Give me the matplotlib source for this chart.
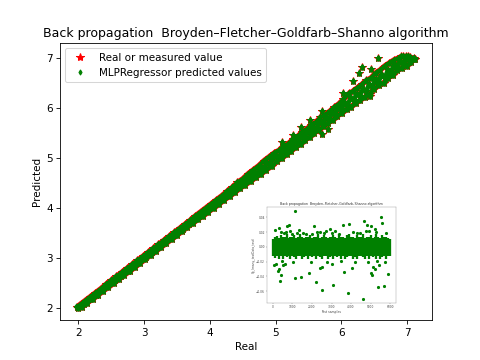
"""
Back propagation BFGS: real vs predicted values, with the residual plot as inset.
"""

import matplotlib.pyplot as plt

title = "Back propagation  Broyden–Fletcher–Goldfarb–Shanno algorithm"

# points read along the diagonal
real = [1.98, 2.00, 2.04, 2.09, 2.13, 2.18, 2.23, 2.27, 2.32, 2.37, 2.42, 2.46, 2.51, 2.56, 2.60, 2.65,
        2.70, 2.75, 2.79, 2.84, 2.89, 2.93, 2.98, 3.03, 3.08, 3.12, 3.17, 3.22, 3.26, 3.31, 3.36, 3.41,
        3.45, 3.50, 3.55, 3.59, 3.64, 3.69, 3.74, 3.78, 3.83, 3.88, 3.92, 3.97, 4.02, 4.07, 4.11, 4.16,
        4.21, 4.25, 4.30, 4.35, 4.40, 4.44, 4.49, 4.54, 4.58, 4.63, 4.68, 4.73, 4.77, 4.82, 4.87, 4.91,
        4.96, 5.01, 5.06, 5.10, 5.15, 5.20, 5.24, 5.29, 5.34, 5.39, 5.43, 5.48, 5.53, 5.57, 5.62, 5.67,
        5.72, 5.76, 5.81, 5.86, 5.90, 5.95, 6.00, 6.05, 6.09, 6.14, 6.19, 6.23, 6.28, 6.33, 6.38, 6.42,
        6.47, 6.52, 6.56, 6.61, 6.66, 6.71, 6.75, 6.80, 6.85, 6.89, 6.94, 6.99, 7.04, 7.10]
predicted = [2.02, 2.00, 2.05, 2.08, 2.14, 2.17, 2.24, 2.26, 2.33, 2.36, 2.43, 2.45, 2.52, 2.55, 2.61, 2.64,
             2.71, 2.74, 2.80, 2.83, 2.90, 2.92, 2.99, 3.02, 3.09, 3.11, 3.18, 3.21, 3.27, 3.30, 3.37, 3.40,
             3.46, 3.49, 3.56, 3.58, 3.65, 3.68, 3.75, 3.77, 3.84, 3.87, 3.93, 3.96, 4.03, 4.06, 4.12, 4.15,
             4.22, 4.24, 4.32, 4.34, 4.42, 4.43, 4.51, 4.52, 4.60, 4.61, 4.70, 4.71, 4.80, 4.79, 4.90, 4.88,
             4.99, 5.04, 5.03, 5.14, 5.12, 5.24, 5.21, 5.33, 5.31, 5.43, 5.40, 5.52, 5.50, 5.61, 5.59, 5.71,
             5.69, 5.80, 5.78, 5.90, 5.87, 5.99, 5.97, 6.10, 6.05, 6.19, 6.15, 6.28, 6.24, 6.38, 6.33, 6.47,
             6.42, 6.57, 6.51, 6.66, 6.60, 6.76, 6.68, 6.88, 6.78, 6.94, 6.87, 6.98, 6.95, 7.00]

# points along the upper edge of the band
real_upper = [2.02, 2.10, 2.18, 2.26, 2.34, 2.42, 2.50, 2.58, 2.66, 2.74, 2.82, 2.90, 2.98, 3.06, 3.14, 3.22, 3.30,
              3.38, 3.46, 3.54, 3.62, 3.70, 3.78, 3.86, 3.94, 4.02, 4.10, 4.18, 4.26, 4.34, 4.42, 4.50, 4.58, 4.66,
              4.74, 4.82, 4.90, 4.98, 5.05, 5.12, 5.19, 5.26, 5.33, 5.40, 5.47, 5.54, 5.61, 5.68, 5.75, 5.82, 5.89,
              5.96, 6.03, 6.10, 6.17, 6.24, 6.31, 6.38, 6.45, 6.52, 6.59, 6.66, 6.73, 6.80, 6.87, 6.94, 7.01]
predicted_upper = [2.06, 2.14, 2.22, 2.30, 2.38, 2.47, 2.55, 2.63, 2.71, 2.79, 2.87, 2.95, 3.03, 3.11, 3.19, 3.27, 3.35,
                   3.43, 3.51, 3.59, 3.67, 3.75, 3.84, 3.92, 4.00, 4.08, 4.16, 4.24, 4.33, 4.41, 4.51, 4.58, 4.68, 4.76,
                   4.84, 4.94, 5.02, 5.10, 5.15, 5.24, 5.28, 5.37, 5.42, 5.52, 5.57, 5.66, 5.71, 5.81, 5.86, 5.93, 6.01,
                   6.08, 6.17, 6.27, 6.33, 6.40, 6.47, 6.55, 6.60, 6.70, 6.76, 6.84, 6.90, 6.96, 7.00, 7.03, 7.03]

# points along the lower edge of the band
real_lower = [2.06, 2.14, 2.22, 2.30, 2.38, 2.46, 2.54, 2.62, 2.70, 2.78, 2.86, 2.94, 3.02, 3.10, 3.18, 3.26, 3.34,
              3.42, 3.50, 3.58, 3.66, 3.74, 3.82, 3.90, 3.98, 4.06, 4.14, 4.22, 4.30, 4.38, 4.46, 4.54, 4.62, 4.70,
              4.78, 4.86, 4.94, 5.02, 5.10, 5.17, 5.24, 5.31, 5.38, 5.45, 5.52, 5.59, 5.66, 5.73, 5.80, 5.87, 5.94,
              6.01, 6.08, 6.15, 6.22, 6.29, 6.36, 6.43, 6.50, 6.57, 6.64, 6.71, 6.78, 6.85, 6.92, 6.99, 7.06, 7.12]
predicted_lower = [2.02, 2.10, 2.18, 2.26, 2.34, 2.41, 2.49, 2.57, 2.65, 2.73, 2.81, 2.89, 2.97, 3.05, 3.13, 3.21, 3.29,
                   3.37, 3.45, 3.53, 3.61, 3.69, 3.77, 3.84, 3.92, 4.00, 4.08, 4.16, 4.23, 4.31, 4.39, 4.46, 4.53, 4.61,
                   4.68, 4.76, 4.83, 4.93, 5.00, 5.07, 5.14, 5.22, 5.28, 5.36, 5.42, 5.50, 5.56, 5.63, 5.70, 5.76, 5.84,
                   5.89, 5.97, 6.02, 6.10, 6.15, 6.22, 6.28, 6.38, 6.45, 6.50, 6.60, 6.65, 6.76, 6.80, 6.84, 6.92, 6.98]

# stragglers off the band above 5
real_extra = [5.09, 5.26, 5.39, 5.53, 5.71, 5.79, 5.70, 6.02, 6.12, 6.17, 6.27, 6.32, 6.44, 6.45, 6.55, 6.90, 6.98, 7.05, 7.10]
predicted_extra = [5.31, 5.45, 5.61, 5.76, 5.94, 5.58, 5.47, 6.30, 6.30, 6.54, 6.70, 6.82, 6.24, 6.78, 7.00, 7.04, 7.03, 7.02, 6.98]

all_real = real + real_upper + real_lower + real_extra
all_predicted = predicted + predicted_upper + predicted_lower + predicted_extra

# residual plot: envelope of the dense band per sample bin, then single points outside it
sample_bins = [0, 100, 200, 300, 400, 500, 600, 700, 800, 900, 1000, 1100, 1200, 1300, 1400, 1500, 1600, 1700, 1800,
               1900, 2000, 2100, 2200, 2300, 2400, 2500, 2600, 2700, 2800, 2900, 3000, 3100, 3200, 3300, 3400,
               3500, 3600, 3700, 3800, 3900, 4000, 4100, 4200, 4300, 4400, 4500, 4600, 4700, 4800, 4900, 5000,
               5100, 5200, 5300, 5400, 5500, 5600, 5700, 5800, 5900, 6000]
band_high = [.011, .013, .015, .012, .016, .013, .014, .017, .012, .014, .013, .016, .012, .014, .017, .013, .012, .014,
             .013, .016, .012, .014, .013, .017, .012, .014, .016, .013, .012, .014, .013, .016, .014, .012, .017,
             .013, .014, .012, .016, .017, .013, .014, .012, .016, .013, .014, .017, .012, .014, .013, .016,
             .012, .014, .017, .013, .012, .016, .013, .014, .012, .011]
band_low = [-.012, -.015, -.013, -.017, -.012, -.016, -.013, -.014, -.012, -.017, -.013, -.014, -.016, -.012, -.013,
            -.016, -.014, -.012, -.017, -.013, -.014, -.012, -.016, -.013, -.014, -.017, -.012, -.013, -.016, -.014,
            -.012, -.017, -.013, -.014, -.012, -.016, -.013, -.017, -.014, -.012, -.013, -.016, -.014, -.017, -.012,
            -.013, -.014, -.016, -.012, -.017, -.013, -.014, -.012, -.016, -.013, -.017, -.014, -.012, -.016, -.013, -.012]
outlier_x = [117, 1120, 330, 400, 720, 800, 1000, 1330, 1550, 2000, 2100, 2400, 2700, 2900, 3200, 3600, 3900, 4300,
             4650, 4750, 4800, 5000, 5550, 5600, 5200, 150, 70, 300, 350, 400, 250, 1130, 1450, 1850, 2200, 2400,
             2500, 2520, 3100, 3650, 3830, 4030, 4600, 5000, 5050, 5100, 5250, 5400, 5450, 5700, 5900, 600, 500, 3000,
             550, 650, 900, 1250, 1700, 2250, 2600, 3050, 3400, 4100, 4450, 4900, 5300, 5800, 450, 1050, 1950, 2750,
             3500, 4200, 4850, 5350, 5750]
outlier_y = [.0227, .0486, .0250, .0200, .0280, .0300, .0180, .0230, .0190, .0180, .0280, .0200, .0210, .0240, .0220, .0300,
             .0310, .0190, .0350, .0220, .0300, .0280, .0400, .0330, .0240, -.0230, -.0240, -.0300, -.0460, -.0380, -.0320, -.0420, -.0410,
             -.0360, -.0470, -.0280, -.0270, -.0580, -.0510, -.0340, -.0620, -.0290, -.0710, -.0360, -.0380, -.0270, -.0300, -.0550, -.0250,
             -.0530, -.0370, -.0230, -.0240, -.0230,
             .0190, .0200, .0210, .0190, .0180, .0200, .0190, .0190, .0180, .0200, .0190, .0210, .0200, .0190,
             -.0190, -.0200, -.0210, -.0200, -.0190, -.0210, -.0200, -.0190, -.0210]

fig = plt.figure(figsize=(6.4, 4.8), dpi=75)
ax = fig.add_subplot(111)
ax.plot(all_real, all_predicted, "*", color="red", markersize=8, label="Real or measured value")
# thin red rim along the band edges
ax.plot(real_upper, predicted_upper, "-", color="red", linewidth=5)
ax.plot(real_lower, predicted_lower, "-", color="red", linewidth=5)
ax.plot(all_real, all_predicted, "*", color="green", markersize=6.5)
ax.plot(all_real, all_predicted, "d", color="green", markersize=4)
# the samples overlap into a solid band in the original, so close the gaps between tracks
ax.plot(real, predicted, "-", color="green", linewidth=4.5)
ax.plot(real_upper, predicted_upper, "-", color="green", linewidth=3.5)
ax.plot(real_lower, predicted_lower, "-", color="green", linewidth=3.5)
ax.plot([], [], "d", color="green", markersize=3.5, label="MLPRegressor predicted values")
ax.set_xlabel("Real")
ax.set_ylabel("Predicted")
ax.set_title(title)
ax.legend(loc="upper left")

# inset is the residual figure pasted on the chart, so everything in it is tiny
inset = fig.add_axes([267 / 480, 1 - 303 / 360, 129 / 480, 96 / 360])
inset.vlines(sample_bins, band_low, band_high, color="green", linewidth=2.2)
inset.plot(outlier_x, outlier_y, "o", color="green", markersize=2)
inset.set_xlim(-300, 6300)
inset.set_ylim(-0.076, 0.054)
inset.set_xticks([0, 1000, 2000, 3000, 4000, 5000, 6000])
inset.set_yticks([-0.06, -0.04, -0.02, 0.00, 0.02, 0.04])
inset.set_yticklabels(["−0.06", "−0.04", "−0.02", "0.00", "0.02", "0.04"])
inset.tick_params(labelsize=2.8, length=1, width=0.3, pad=1, colors="#444444")
inset.set_xlabel("Test samples", fontsize=3, labelpad=0.5, color="#444444")
inset.set_ylabel("Yp_(many_testData_test)", fontsize=2.8, labelpad=0.5, color="#444444")
inset.set_title(title, fontsize=3.1, pad=1.5, color="#333333")
for spine in inset.spines.values():
    spine.set_linewidth(0.3)
    spine.set_color("#777777")

fig.savefig("out.png", dpi=75)
